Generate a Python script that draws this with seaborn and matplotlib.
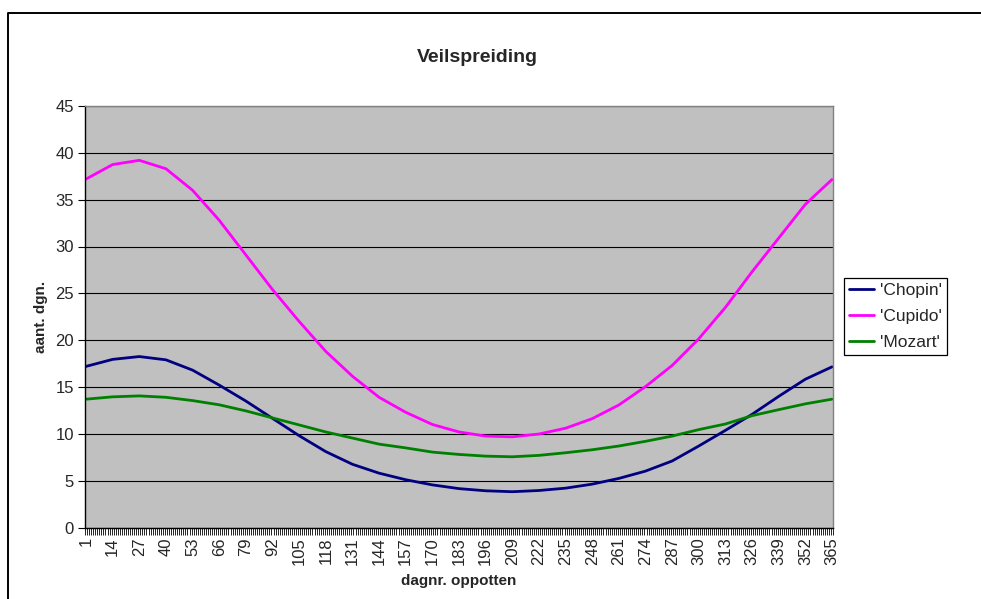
import matplotlib
matplotlib.use("Agg")
import matplotlib.pyplot as plt
from matplotlib.lines import Line2D
from matplotlib.ticker import FixedLocator, MultipleLocator
import numpy as np
import pandas as pd
import seaborn as sns

# Day numbers (category labels shown on the x axis)
days = [1, 14, 27, 40, 53, 66, 79, 92, 105, 118, 131, 144, 157, 170, 183,
        196, 209, 222, 235, 248, 261, 274, 287, 300, 313, 326, 339, 352, 365]

# Spread of flower-auction days per cultivar
chopin = [17.2, 17.95, 18.25, 17.9, 16.8, 15.2, 13.5, 11.65, 9.8, 8.1, 6.75,
          5.8, 5.1, 4.55, 4.15, 3.92, 3.82, 3.95, 4.2, 4.63, 5.24, 6.02, 7.1,
          8.7, 10.37, 12.08, 14.0, 15.83, 17.15]
cupido = [37.2, 38.75, 39.2, 38.3, 36.0, 32.8, 29.1, 25.4, 22.0, 18.8, 16.15,
          13.9, 12.3, 11.0, 10.2, 9.76, 9.68, 9.98, 10.6, 11.62, 13.08, 15.04,
          17.3, 20.15, 23.5, 27.3, 30.9, 34.5, 37.15]
mozart = [13.7, 13.95, 14.05, 13.9, 13.55, 13.1, 12.45, 11.7, 10.95, 10.2,
          9.55, 8.9, 8.5, 8.05, 7.8, 7.62, 7.55, 7.7, 7.98, 8.3, 8.7, 9.2,
          9.76, 10.45, 11.05, 11.94, 12.58, 13.2, 13.7]

series_names = ["'Chopin'", "'Cupido'", "'Mozart'"]
series_colors = ["#000080", "#FF00FF", "#008000"]

df = pd.DataFrame({
    "dag": days * 3,
    "waarde": chopin + cupido + mozart,
    "ras": [series_names[0]] * len(days) + [series_names[1]] * len(days)
           + [series_names[2]] * len(days),
})

sns.set_style("white")
plt.rcParams["font.family"] = ["Liberation Sans", "DejaVu Sans"]

W, H = 981, 599
fig = plt.figure(figsize=(W / 100, H / 100), dpi=100)
fig.patch.set_facecolor("white")

def fx(px):
    return px / W

def fy(py):
    return 1 - py / H

ax = fig.add_axes([fx(85), fy(527.5), fx(833) - fx(85), fy(106) - fy(527.5)])
ax.set_facecolor("#C0C0C0")

sns.lineplot(data=df, x="dag", y="waarde", hue="ras",
             palette=dict(zip(series_names, series_colors)),
             linewidth=2.0, ax=ax, legend=False, sort=False)

ax.set_xlim(0.5, 365.5)
ax.set_ylim(0, 45)

# y axis: gridlines every 5
ax.yaxis.set_major_locator(MultipleLocator(5))
ax.grid(axis="y", color="black", linewidth=0.8)
ax.grid(axis="x", visible=False)
ax.set_axisbelow(True)
ax.tick_params(axis="y", which="major", direction="out", length=5,
               width=0.8, color="black", labelsize=12, pad=3, left=True)

# x axis: labels every 13 days, a small tick at each day boundary
ax.xaxis.set_major_locator(FixedLocator(days))
ax.set_xticklabels([str(d) for d in days], rotation=90, fontsize=12)
ax.xaxis.set_minor_locator(FixedLocator(np.arange(0.5, 366, 1.0)))
ax.tick_params(axis="x", which="major", length=0, pad=7, bottom=True)
ax.tick_params(axis="x", which="minor", direction="out", length=5,
               width=0.6, color="black", bottom=True)

for side in ("left", "bottom"):
    ax.spines[side].set_color("black")
    ax.spines[side].set_linewidth(1.0)
for side in ("top", "right"):
    ax.spines[side].set_color("#808080")
    ax.spines[side].set_linewidth(1.0)

ax.set_xlabel("dagnr. oppotten", fontsize=11, fontweight="bold", labelpad=6)
ax.set_ylabel("aant. dgn.", fontsize=11, fontweight="bold", labelpad=5)

fig.text(fx(477), fy(57), "Veilspreiding", ha="center", va="center",
         fontsize=14, fontweight="bold")

handles = [Line2D([], [], color=c, linewidth=2.0) for c in series_colors]
leg = fig.legend(handles, series_names, loc="upper left",
                 bbox_to_anchor=(fx(844), fy(278)), frameon=True,
                 fancybox=False, framealpha=1, edgecolor="black",
                 fontsize=12.5, handlelength=1.45, handletextpad=0.3,
                 labelspacing=0.62, borderpad=0.3, borderaxespad=0)
leg.get_frame().set_linewidth(0.9)

# Chart frame (runs off the right and bottom edge)
fig.add_artist(Line2D([fx(7.5), fx(7.5), fx(990)], [fy(620), fy(12.5), fy(12.5)],
                      transform=fig.transFigure, color="black", linewidth=1.4))

fig.savefig("out.png", dpi=100, facecolor="white")
